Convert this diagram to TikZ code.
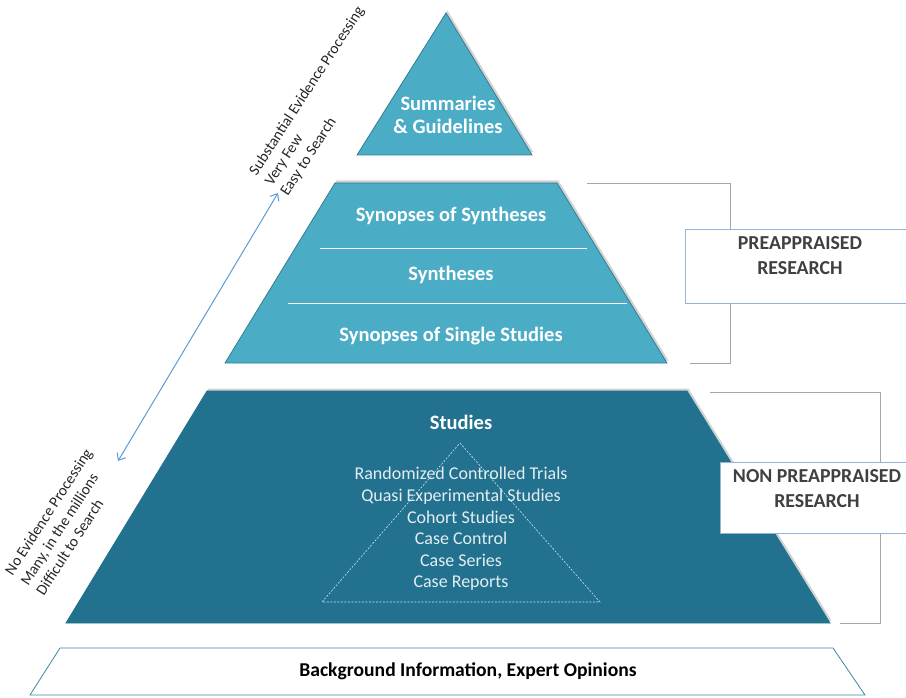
\documentclass[tikz,border=0pt]{standalone}
\usepackage{fontspec}
\setmainfont{Carlito}
\usetikzlibrary{shadows,arrows.meta}
\definecolor{aqua}{HTML}{4BACC6}
\definecolor{aquadark}{HTML}{357D92}
\definecolor{teal}{HTML}{21718F}
\definecolor{tealline}{HTML}{3A8AA6}
\definecolor{arrowblue}{HTML}{5B9BD5}
\definecolor{labelgray}{HTML}{404040}
\definecolor{bracketgray}{HTML}{A6A6A6}
\definecolor{boxline}{HTML}{95B3D7}
\tikzset{
  lvl/.style={line width=0.8pt, drop shadow={opacity=0.35, shadow xshift=1.5pt, shadow yshift=2.5pt}},
  wtext/.style={text=white, font=\bfseries\fontsize{20.5}{23}\selectfont, align=center},
  studytext/.style={text=white!88!teal, font=\fontsize{18}{21.6}\selectfont, align=center},
  sidetext/.style={text=black!85, font=\fontsize{15.4}{18.5}\selectfont, align=left, inner sep=0pt, anchor=north west, rotate=57},
  lblbox/.style={draw=boxline, fill=white, line width=0.8pt, inner sep=0pt},
  lbltext/.style={text=labelgray, font=\bfseries\fontsize{19.8}{25}\selectfont, align=center},
  bracket/.style={draw=bracketgray, line width=0.8pt}
}
\begin{document}
\begin{tikzpicture}[x=1pt,y=-1pt]
\useasboundingbox (0,0) rectangle (906,698);
% top triangle
\filldraw[lvl, fill=aqua, draw=aquadark] (446,13) -- (532,155) -- (357,155) -- cycle;
\node[wtext] (summ) at (448,115) {Summaries\\\& Guidelines};
% middle trapezoid
\filldraw[lvl, fill=aqua, draw=aquadark] (335,183) -- (557,183) -- (667,363) -- (225,363) -- cycle;
\draw[white, line width=0.8pt] (320,248) -- (587,248);
\draw[white, line width=0.8pt] (288,303) -- (627,303);
\node[wtext] (sos) at (451,216) {Synopses of Syntheses};
\node[wtext] (syn) at (451,275) {Syntheses};
\node[wtext] (soss) at (451,336) {Synopses of Single Studies};
% bottom trapezoid
\filldraw[lvl, fill=teal, draw=teal] (207,391) -- (687,391) -- (830,623) -- (66,623) -- cycle;
\node[wtext] (studies) at (461,422) {Studies};
\draw[white!80!teal, dashed, dash pattern=on 2pt off 1.5pt, line width=0.6pt] (460,443) -- (600,602) -- (322,602) -- cycle;
\node[studytext] (list) at (461,529) {Randomized Controlled Trials\\Quasi Experimental Studies\\Cohort Studies\\Case Control\\Case Series\\Case Reports};
% base
\filldraw[fill=white, draw=tealline, line width=0.8pt] (60,648) -- (833,648) -- (865,695) -- (30,695) -- cycle;
\node[font=\bfseries\fontsize{19.6}{22}\selectfont] (bg) at (468,671) {Background Information, Expert Opinions};
% brackets
\draw[bracket] (587,183) -- (730,183) -- (730,363) -- (690,363);
\node[lblbox, minimum width=221pt, minimum height=74pt] (pre) at (795.5,266) {};
\node[lbltext] (pretext) at (800,256) {PREAPPRAISED\\RESEARCH};
\draw[bracket] (710,392) -- (880,392) -- (880,623) -- (840,623);
\node[lblbox, minimum width=186pt, minimum height=71pt] (nonpre) at (813,497.5) {};
\node[lbltext] (nonpretext) at (817,489) {NON PREAPPRAISED\\RESEARCH};
% arrow
\coordinate (atop) at (278,193);
\coordinate (abot) at (118,461);
\draw[arrowblue, line width=1pt, {Straight Barb[length=6pt,width=10pt]}-{Straight Barb[length=6pt,width=10pt]}] (abot) -- (atop);
\node[sidetext] (toptext) at (247.5,170.5) {Substantial Evidence Processing\\Very Few\\Easy to Search};
\node[sidetext] (bottext) at (3.5,570.5) {No Evidence Processing\\Many, in the millions\\Difficult to Search};
\end{tikzpicture}
\end{document}
